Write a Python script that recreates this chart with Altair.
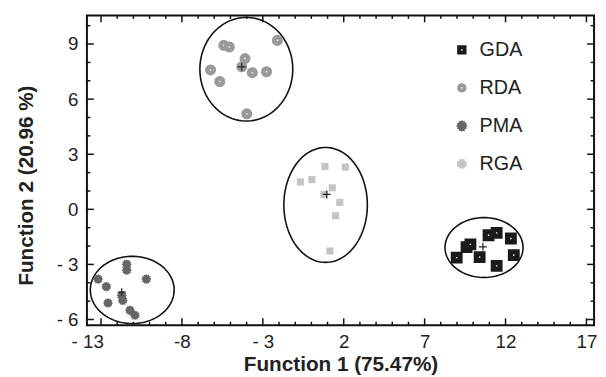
import math
import altair as alt
import pandas as pd

# ---- data ----
groups = ["GDA", "RDA", "PMA", "RGA"]

gda_x = [8.98, 9.59, 9.83, 10.40, 10.95, 11.45, 12.33, 12.51, 11.45]
gda_y = [-2.63, -2.06, -1.91, -2.60, -1.41, -1.28, -1.59, -2.49, -3.08]
rda_x = [-2.10, -5.41, -5.07, -4.10, -4.30, -6.23, -3.65, -2.77, -5.66, -3.99]
rda_y = [9.20, 8.93, 8.84, 8.21, 7.76, 7.59, 7.44, 7.49, 6.96, 5.20]
pma_x = [-11.41, -11.41, -13.18, -10.20, -12.67, -11.72, -11.66, -12.57, -11.21, -10.90]
pma_y = [-2.99, -3.31, -3.80, -3.80, -4.21, -4.69, -4.96, -5.10, -5.50, -5.77]
rga_x = [0.84, 2.10, -0.68, 0.03, 1.29, 0.78, 1.76, 1.49, 1.15]
rga_y = [2.33, 2.30, 1.49, 1.62, 1.17, 0.81, 0.38, -0.35, -2.27]

cent_x = [10.60, -4.30, -11.72, 0.95]
cent_y = [-2.04, 7.76, -4.51, 0.81]

ell_cx = [10.67, -4.02, -11.07, 0.88]
ell_cy = [-2.08, 7.63, -4.39, 0.24]
ell_rx = [2.41, 2.87, 2.59, 2.58]
ell_ry = [1.63, 2.82, 1.83, 3.13]

x_major = [-13, -8, -3, 2, 7, 12, 17]
y_major = [-6, -3, 0, 3, 6, 9]
x_minor = [v for v in range(-13, 18) if v not in x_major]
y_minor = [v for v in range(-6, 11) if v not in y_major]

x_title = "Function 1 (75.47%)"
y_title = "Function 2 (20.96 %)"

# ---- layout ----
W, H = 514, 314
XDOM = [-13.87, 17.47]
YDOM = [-6.31, 10.56]
FONT = "Liberation Sans"
PX_X = W / (XDOM[1] - XDOM[0])
PX_Y = H / (YDOM[1] - YDOM[0])

xs = alt.Scale(domain=XDOM, nice=False, zero=False)
ys = alt.Scale(domain=YDOM, nice=False, zero=False)

gear_pts = []
for i in range(24):
    a = i * math.pi / 12
    r = 1.0 if i % 2 == 0 else 0.78
    gear_pts.append(f"{r*math.cos(a):.3f},{r*math.sin(a):.3f}")
GEAR = "M" + "L".join(gear_pts) + "Z"
PLUS = "M-1,0L1,0M0,-1L0,1"
THICK_PLUS = ("M-0.33,-1L0.33,-1L0.33,-0.33L1,-0.33L1,0.33L0.33,0.33L0.33,1"
              "L-0.33,1L-0.33,0.33L-1,0.33L-1,-0.33L-0.33,-0.33Z")

def pts(xv, yv, g):
    return pd.DataFrame({"x": xv, "y": yv, "group": g})

df_gda = pts(gda_x, gda_y, "GDA")
df_rda = pts(rda_x, rda_y, "RDA")
df_pma = pts(pma_x, pma_y, "PMA")
df_rga = pts(rga_x, rga_y, "RGA")
df_cent = pd.DataFrame({"x": cent_x, "y": cent_y, "group": groups})

rows = []
for g, cx, cy, rx, ry in zip(groups, ell_cx, ell_cy, ell_rx, ell_ry):
    for k in range(121):
        t = 2 * math.pi * k / 120
        rows.append({"group": g, "k": k, "x": cx + rx * math.cos(t), "y": cy + ry * math.sin(t)})
df_lines = pd.DataFrame(rows)

# inward frame ticks as thin filled rectangles (tick length / width converted to data units)
trows = []
for xv_list, yv_list, length in ((x_major, y_major, 7), (x_minor, y_minor, 3.5)):
    lx, ly = length / PX_X, length / PX_Y
    hwx, hwy = 0.75 / PX_X, 0.75 / PX_Y
    for v in xv_list:
        trows.append({"x": v - hwx, "x2": v + hwx, "y": YDOM[0], "y2": YDOM[0] + ly})
        trows.append({"x": v - hwx, "x2": v + hwx, "y": YDOM[1] - ly, "y2": YDOM[1]})
    for v in yv_list:
        trows.append({"x": XDOM[0], "x2": XDOM[0] + lx, "y": v - hwy, "y2": v + hwy})
        trows.append({"x": XDOM[1] - lx, "x2": XDOM[1], "y": v - hwy, "y2": v + hwy})
df_ticks = pd.DataFrame(trows)

X = alt.X("x:Q", scale=xs, title=x_title,
          axis=alt.Axis(values=x_major, grid=False, ticks=False, domain=False,
                        labelExpr="datum.value == -8 ? '-8' : (datum.value < 0 ? '- ' + abs(datum.value) : datum.label)",
                        labelFont=FONT, labelFontSize=19, labelColor="#222", labelPadding=8,
                        labelOffset={"condition": {"test": "datum.value == -13", "value": -14}, "value": 0},
                        titleFont=FONT, titleFontSize=21, titleFontWeight="bold", titleColor="#222",
                        titleY=40, titleBaseline="middle", titleX=W / 2))
Y = alt.Y("y:Q", scale=ys, title=y_title,
          axis=alt.Axis(values=y_major, grid=False, ticks=False, domain=False,
                        labelExpr="datum.value < 0 ? '- ' + abs(datum.value) : datum.label",
                        labelFont=FONT, labelFontSize=19, labelColor="#222", labelPadding=9,
                        titleFont=FONT, titleFontSize=21, titleFontWeight="bold", titleColor="#222",
                        titleX=-61, titleY=172, titleBaseline="middle", titleAngle=-90))

lines = alt.Chart(df_lines).mark_line(color="#111", strokeWidth=1.6).encode(
    x=X, y=Y, detail="group:N", order="k:Q")

ticks = alt.Chart(df_ticks).mark_rect(color="#111111", opacity=1).encode(
    x=X, x2="x2:Q", y=Y, y2="y2:Q")

legend_layer = alt.Chart(df_cent).mark_point(opacity=0, filled=False).encode(
    x=X, y=Y,
    shape=alt.Shape("group:N", scale=alt.Scale(domain=groups, range=["square", "circle", GEAR, THICK_PLUS]),
                    legend=alt.Legend(title=None, orient="none", legendX=370, legendY=25,
                                      labelFont=FONT, labelFontSize=20, labelColor="#222",
                                      rowPadding=16.5, labelOffset=8, symbolOpacity=1)),
    fill=alt.Fill("group:N", scale=alt.Scale(domain=groups, range=["#ffffff", "#ffffff", "#666666", "#c4c4c4"])),
    stroke=alt.Stroke("group:N", scale=alt.Scale(domain=groups, range=["#1a1a1a", "#999999", "#666666", "#c4c4c4"])),
    strokeWidth=alt.StrokeWidth("group:N", scale=alt.Scale(domain=groups, range=[4.0, 3.6, 0, 0])),
    size=alt.Size("group:N", scale=alt.Scale(domain=groups, range=[30, 36, 80, 150])),
)

gda = alt.Chart(df_gda).mark_point(shape="square", fill="#ffffff", stroke="#1a1a1a",
                                   strokeWidth=5.3, size=45, opacity=1).encode(x=X, y=Y)
rda = alt.Chart(df_rda).mark_point(shape="circle", fill="#ffffff", stroke="#9a9a9a",
                                   strokeWidth=4.8, size=41, opacity=1).encode(x=X, y=Y)
pma = alt.Chart(df_pma).mark_point(shape=GEAR, filled=True, color="#666666",
                                   size=105, opacity=1).encode(x=X, y=Y)
rga = alt.Chart(df_rga).mark_point(shape="square", filled=True, color="#c4c4c4",
                                   size=52, opacity=1).encode(x=X, y=Y)
cent = alt.Chart(df_cent).mark_point(shape=PLUS, filled=False, stroke="#222222",
                                     strokeWidth=1.2, size=64, opacity=1).encode(x=X, y=Y)

chart = alt.layer(
    lines, ticks, legend_layer, rga, rda, pma, gda, cent
).properties(
    width=W, height=H,
    autosize=alt.AutoSizeParams(type="none"),
    padding={"left": 80, "top": 5, "right": 4, "bottom": 50},
).configure_view(
    stroke="#111", strokeWidth=2
)

chart.save("out.html", embed_options={"renderer": "svg", "actions": False})
